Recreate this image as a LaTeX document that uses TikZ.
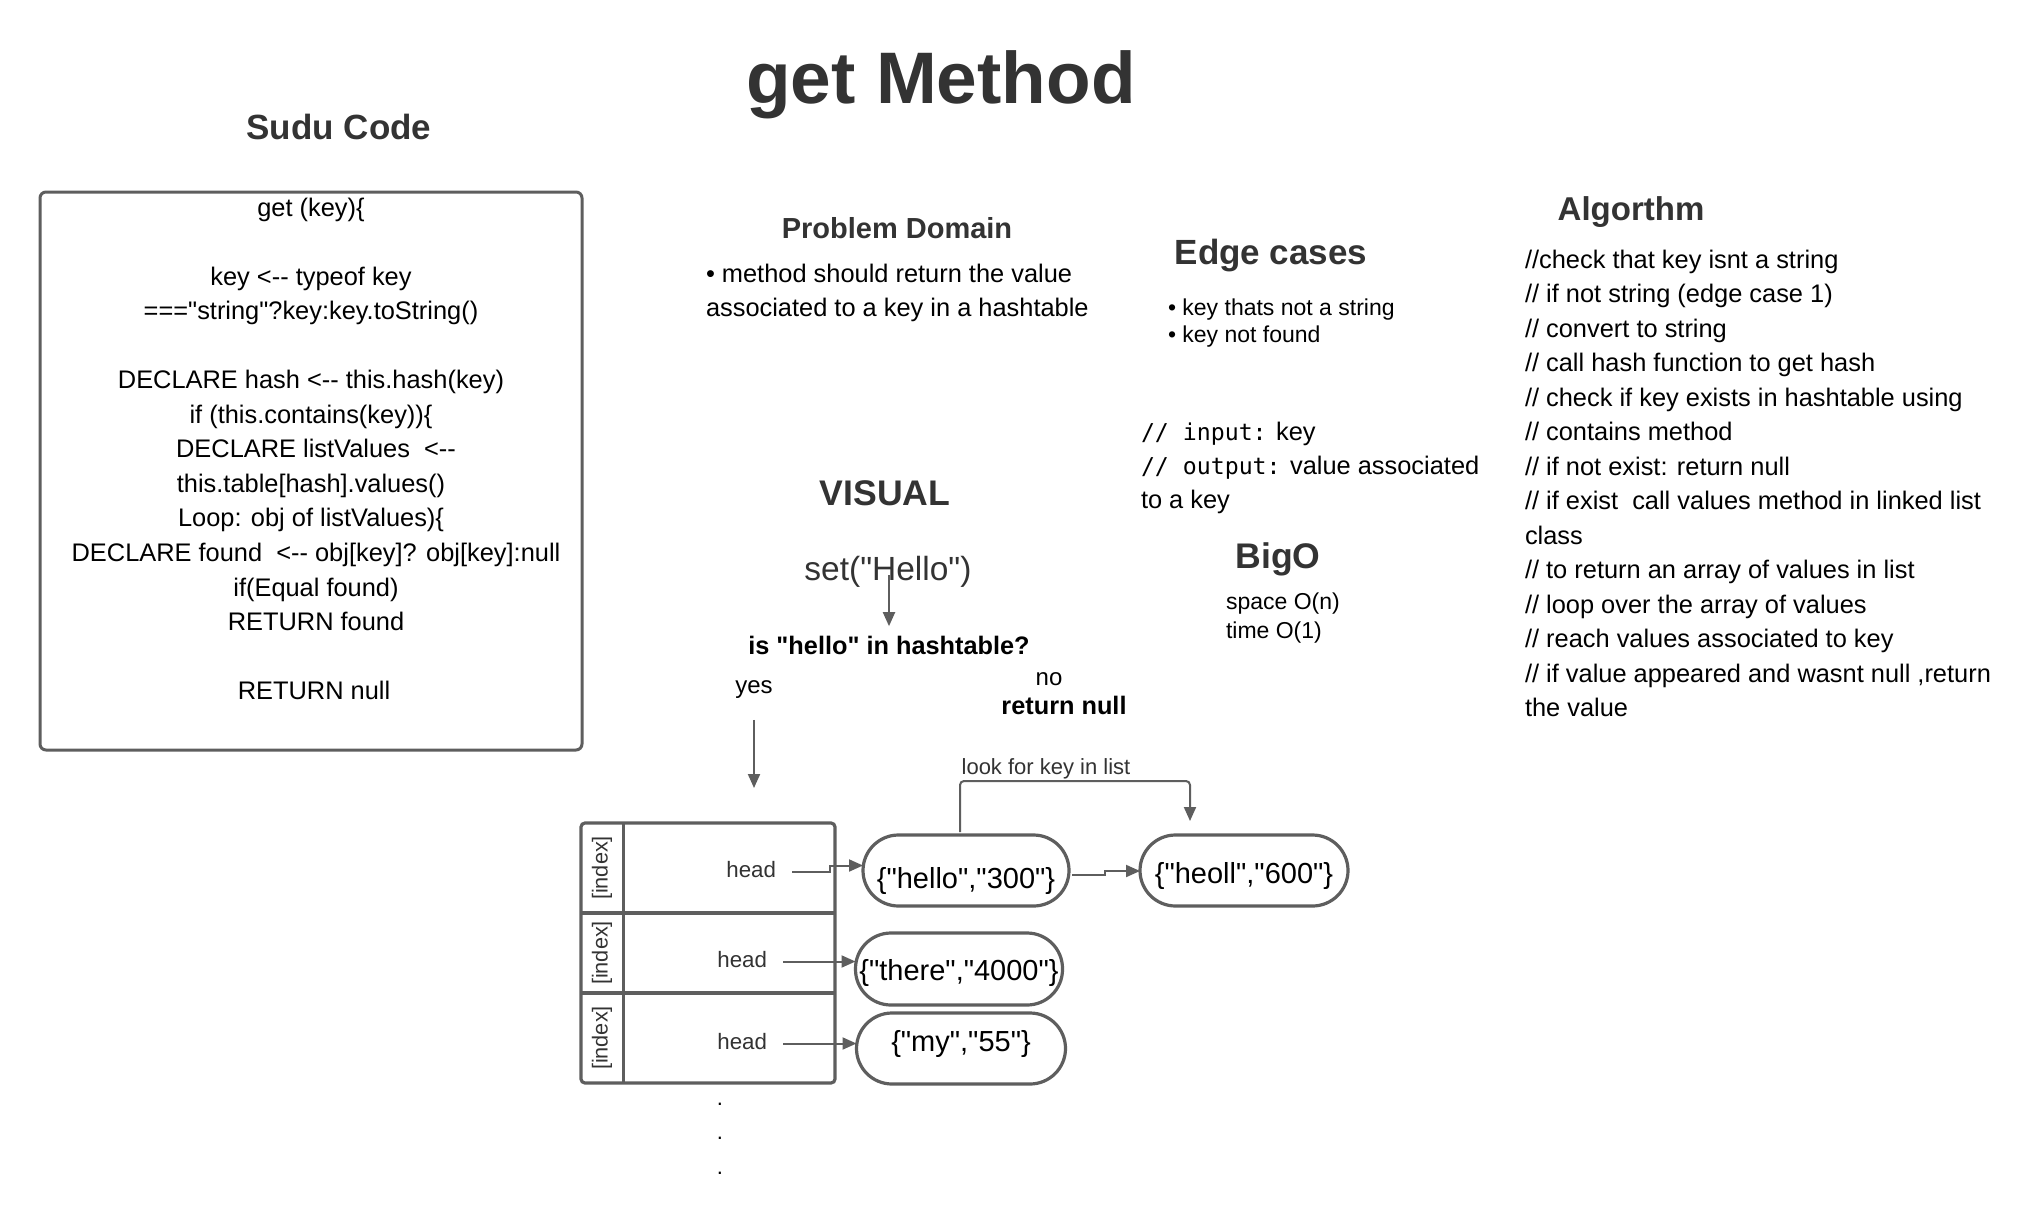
\documentclass[tikz,border=0pt]{standalone}
\usepackage{fontspec}
\setmainfont{Liberation Sans}[Ligatures=TeXOff]
\newfontfamily\monofont{DejaVu Sans Mono}[Ligatures=TeXOff]
\usetikzlibrary{arrows.meta}
\definecolor{ink}{HTML}{333333}
\definecolor{linec}{HTML}{5E5E5E}
\tikzset{
  every node/.style={inner sep=0pt, outer sep=0pt},
  titletxt/.style={font=\fontsize{36.5}{44}\selectfont\bfseries, text=ink, anchor=base},
  headtxt/.style={font=\fontsize{17.5}{21}\selectfont\bfseries, text=ink, anchor=base},
  bodytxt/.style={font=\fontsize{12.7}{15}\selectfont, text=black, anchor=base},
  bodyleft/.style={bodytxt, anchor=base west},
  smalltxt/.style={font=\fontsize{11.5}{14}\selectfont, text=black, anchor=base west},
  conn/.style={draw=linec, line width=1pt, -{Triangle[length=7pt,width=6pt]}},
  kvbox/.style={draw=linec, line width=1.6pt, rounded corners=17.75pt, minimum height=35.5pt,
    font=\fontsize{14.5}{17}\selectfont, text=black, text depth=0pt},
  headlbl/.style={font=\fontsize{11.15}{13}\selectfont, text=ink, anchor=base east, text height=5.5pt, text depth=0pt},
  idxlbl/.style={font=\fontsize{10.85}{13}\selectfont, text=ink, rotate=90},
  tableline/.style={draw=linec, line width=1.6pt},
}
\begin{document}
\begin{tikzpicture}[x=0.5pt,y=-0.5pt]
\useasboundingbox[fill=white] (0,0) rectangle (2040,1231);

% titles
\node[titletxt] (title) at (941,103) {get Method};
\node[headtxt] (sudu) at (339,139) {Sudu Code};
\node[headtxt, font=\fontsize{14.5}{17}\selectfont\bfseries] (pdh) at (897,238) {Problem Domain};
\node[headtxt] (edge) at (1271,264) {Edge cases};
\node[headtxt, font=\fontsize{16.5}{20}\selectfont\bfseries] (algh) at (1631,220) {Algorthm};
\node[headtxt, font=\fontsize{17.8}{21}\selectfont\bfseries] (bigo) at (1278,568) {BigO};
\node[headtxt, font=\fontsize{17.8}{21}\selectfont\bfseries] (visual) at (885,505) {VISUAL};

% code box
\node[draw=linec, line width=1.5pt, rounded corners=3pt, minimum width=271pt, minimum height=279pt] (codebox) at (311,471) {};
\foreach \x/\y/\t [count=\i] in {
  311/216/{get (key)\{},
  311/285.1/{key <-{}- typeof key},
  311/319.65/{==="string"?key:key.toString()},
  311/388.75/{DECLARE hash <-{}- this.hash(key)},
  311/423.3/{if (this.contains(key))\{},
  316/457.85/{DECLARE listValues~ <-{}-},
  311/492.4/{this.table[hash].values()},
  311/526.95/{Loop: obj of listValues)\{},
  316/561.5/{DECLARE found~ <-{}- obj[key]? obj[key]:null},
  316/596.05/{if(Equal found)},
  316/630.6/{RETURN found},
  314/699.7/{RETURN null}}
  \node[bodytxt] (code\i) at (\x,\y) {\t};

% problem domain
\node[bodyleft] (pd1) at (706,282) {• method should return the value};
\node[bodyleft] (pd2) at (706,316) {associated to a key in a hashtable};

% edge cases
\node[smalltxt] (ec1) at (1168,315) {• key thats not a string};
\node[smalltxt] (ec2) at (1168,342) {• key not found};

% input / output
\node[bodyleft] (io1) at (1141,440) {{\monofont\fontsize{11.6}{14}\selectfont // input:} key};
\node[bodyleft] (io2) at (1141,474) {{\monofont\fontsize{11.6}{14}\selectfont // output:} value associated};
\node[bodyleft] (io3) at (1141,508) {to a key};

% big O
\node[smalltxt] (sp) at (1226,609) {space O(n)};
\node[smalltxt] (tm) at (1226,638) {time O(1)};

% algorithm
\foreach \t [count=\i from 0] in {
  {//check that key isnt a string},
  {// if not string (edge case 1)},
  {// convert to string},
  {// call hash function to get hash},
  {// check if key exists in hashtable using},
  {// contains method},
  {// if not exist: return null},
  {// if exist~ call values method in linked list},
  {class},
  {// to return an array of values in list},
  {// loop over the array of values},
  {// reach values associated to key},
  {// if value appeared and wasnt null ,return},
  {the value}}
  \node[bodyleft] (alg\i) at (1525,268+34.5*\i) {\t};

% visual flow
\node[font=\fontsize{16.75}{20}\selectfont, text=ink, anchor=base] (sh) at (888,580) {set("Hello")};
\node[bodytxt, font=\fontsize{12.65}{15}\selectfont\bfseries] (q) at (889,654) {is "hello" in hashtable?};
\node[bodytxt, font=\fontsize{12}{15}\selectfont] (yes) at (754,693) {yes};
\node[bodytxt, font=\fontsize{12}{15}\selectfont] (no) at (1049,685) {no};
\node[bodytxt, font=\fontsize{12.65}{15}\selectfont\bfseries] (rn) at (1064,714) {return null};

\draw[conn, shorten <=-2.5pt, shorten >=4.75pt] (q.north |- sh.base) -- (q.north);
\coordinate (yesend) at (755,788);
\draw[conn, shorten <=11pt] (yes.south) -- (yes.south |- yesend);

% table
\draw[tableline, rounded corners=2pt] (581,823) rectangle (835,1083);
\draw[tableline] (581,913) -- (835,913) (581,993) -- (835,993) (623.5,823) -- (623.5,1083);
\node[idxlbl] (idx1) at (602,868) {[index]};
\node[idxlbl] (idx2) at (602,953) {[index]};
\node[idxlbl] (idx3) at (602,1038) {[index]};
\node[headlbl] (h1) at (776,877) {head};
\node[headlbl] (h2) at (767,967) {head};
\node[headlbl] (h3) at (767,1049) {head};

% key/value nodes
\node[kvbox, minimum width=103pt, text height=17.5pt] (n1) at (966,870.5) {\{"hello","300"\}\hspace{3pt}};
\node[kvbox, minimum width=104pt, text height=12.5pt] (n2) at (1244,870.5) {\{"heoll","600"\}};
\node[kvbox, minimum width=103.5pt, minimum height=36pt, text height=11pt] (n3) at (959,969) {\{"there","4000"\}};
\node[kvbox, minimum width=104.5pt, text height=2.5pt] (n4) at (961,1048.5) {\{"my","55"\}\hspace{6.5pt}};

% connectors
\draw[conn, shorten <=8pt] (h1.east) -- ++(27pt,0) |- ([yshift=2.5pt]n1.west);
\draw[conn, shorten <=8pt] (h2.east) -- (h2.east -| n3.west);
\draw[conn, shorten <=8pt] (h3.east) -- (h3.east -| n4.west);
\draw[conn, shorten <=1.5pt] ([yshift=-2pt]n1.east) -- ++(18pt,0) |- ([yshift=-0.25pt]n2.west);
\draw[conn, rounded corners=2pt, shorten <=1.5pt, shorten >=7pt] ([xshift=-3pt]n1.north) -- ++(0,-54) -| ([xshift=-27pt]n2.north);
\node[font=\fontsize{11}{13}\selectfont, text=ink, anchor=base] (lk) at (1046,774) {look for key in list};

% dots
\foreach \y [count=\i] in {1105,1139.5,1174.5}
  \node[font=\fontsize{11}{13}\selectfont, anchor=base] (dot\i) at (720,\y) {.};
\end{tikzpicture}
\end{document}
